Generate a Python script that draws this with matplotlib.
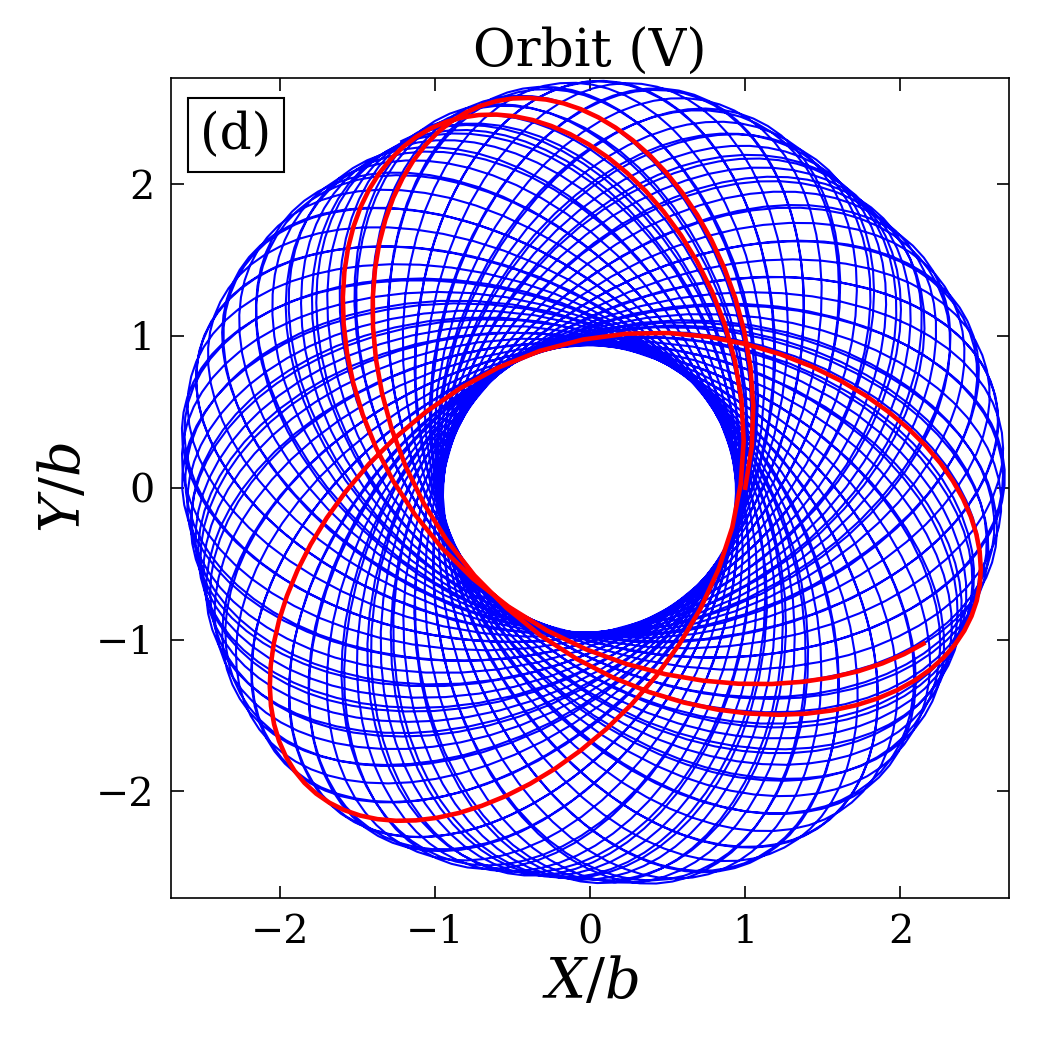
import numpy as np
import matplotlib
matplotlib.use('Agg')
import matplotlib.pyplot as plt

# potential: flattened cored logarithmic, Phi = 0.5 * v0^2 * ln(rc^2 + R^2 + z^2/q^2), lengths in units of b
v0 = 1.0
rc = 0.3
q = 0.85

# initial conditions
pos_init = [1.0, 0.0, 0.0]
vel_init = [0.30, 1.385, 0.45]

dt = 0.01
t_end = 1000.0   # whole orbit (blue)
t_red = 35.8     # first few radial periods (red)
stride = 20      # plot every 20th step


def accel(p):
    x, y, z = p
    d = rc**2 + x**2 + y**2 + z**2 / q**2
    return -v0**2 / d * np.array([x, y, z / q**2])


# leapfrog integration
n = int(t_end / dt)
orbit = np.empty((n + 1, 3))
p = np.array(pos_init, dtype=float)
v = np.array(vel_init, dtype=float)
orbit[0] = p
a = accel(p)
for i in range(n):
    v += 0.5 * dt * a
    p += dt * v
    a = accel(p)
    v += 0.5 * dt * a
    orbit[i + 1] = p

xs, ys = orbit[:, 0], orbit[:, 1]

plt.rcParams['font.family'] = 'DejaVu Serif'
plt.rcParams['mathtext.fontset'] = 'dejavuserif'

fig = plt.figure(figsize=(7, 7), dpi=150)
ax = fig.add_axes([0.163, 0.145, 0.798, 0.781])

ax.plot(xs[::stride], ys[::stride], color='blue', lw=1.0)
nr = int(t_red / dt)
ax.plot(xs[:nr:stride], ys[:nr:stride], color='red', lw=2.2)

ax.set_xlim(-2.7, 2.7)
ax.set_ylim(-2.7, 2.7)
ax.set_xticks([-2, -1, 0, 1, 2])
ax.set_yticks([-2, -1, 0, 1, 2])
ax.tick_params(direction='in', top=True, right=True, labelsize=19, length=6, pad=8)
ax.set_xlabel('$X/b$', fontsize=27, labelpad=2)
ax.set_ylabel('$Y/b$', fontsize=27, labelpad=2)
ax.set_title('Orbit (V)', fontsize=25, pad=5)
ax.text(0.035, 0.96, '(d)', transform=ax.transAxes, fontsize=24, va='top', ha='left',
        bbox=dict(boxstyle='square,pad=0.25', fc='white', ec='black'))

fig.savefig('out.png')
